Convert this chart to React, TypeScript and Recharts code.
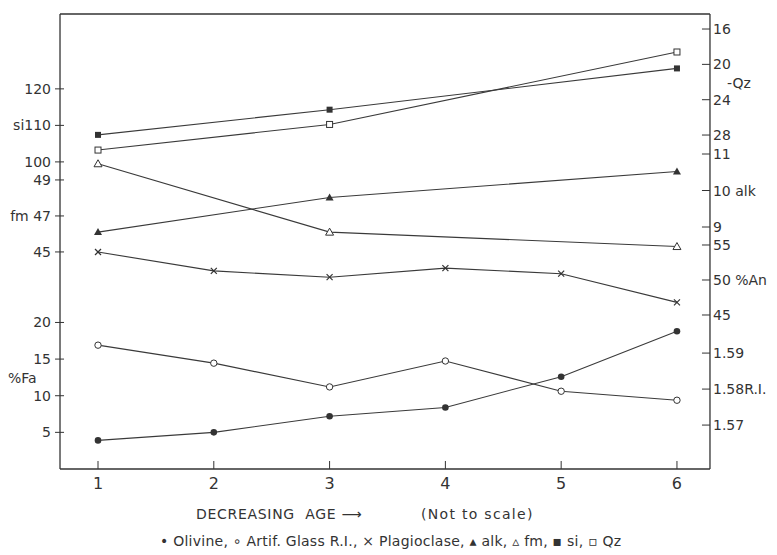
import React from "react";
import { LineChart, Line, XAxis, YAxis } from "recharts";

// age order along the x axis (not to scale)
const ages = [1, 2, 3, 4, 5, 6];

// series; null = no sample at that age
const olivineFa = [3.9, 5.0, 7.2, 8.4, 12.6, 18.8];
const glassRI = [1.5922, 1.5872, 1.5806, 1.5878, 1.5794, 1.5769];
const plagAn = [54.0, 51.3, 50.4, 51.7, 50.9, 46.8];
const alkValues = [8.86, null, 9.81, null, null, 10.52];
const fmValues = [49.9, null, 46.1, null, null, 45.3];
const siValues = [107.4, null, 114.3, null, null, 125.6];
const qzValues = [29.7, null, 26.8, null, null, 18.6];

// tick values for each stacked scale
const siTicks = [100, 110, 120];
const fmTicks = [45, 47, 49];
const faTicks = [5, 10, 15, 20];
const qzTicks = [16, 20, 24, 28];
const alkTicks = [9, 10, 11];
const anTicks = [45, 50, 55];
const riTicks = [1.57, 1.58, 1.59];

const FONT = '"DejaVu Sans", "Liberation Sans", sans-serif';
const INK = "#333";
const MARGIN_Y = 8;
const THIN = 0.01; // axes need a non-zero size to render, but should not push each other

const data = ages.map((age, i) => ({
  age,
  fa: olivineFa[i],
  ri: glassRI[i],
  an: plagAn[i],
  alk: alkValues[i],
  fm: fmValues[i],
  si: siValues[i],
  qz: qzValues[i],
}));

function fmtRI(v: number) {
  const s = v.toFixed(2);
  return s === "1.58" ? "1.58R.I." : s;
}

function SideTick(props: any) {
  const { x, y, payload, side, format } = props;
  const axisX = side === "left" ? x + MARGIN_Y : x - MARGIN_Y;
  const text = format ? format(payload.value) : String(payload.value);
  return (
    <g>
      {side === "left" ? (
        <line x1={axisX - 5} y1={y} x2={axisX + 4} y2={y} stroke={INK} strokeWidth={1} />
      ) : (
        <line x1={axisX - 8} y1={y} x2={axisX} y2={y} stroke={INK} strokeWidth={1} />
      )}
      <text
        x={side === "left" ? x - 1 : x - MARGIN_Y + 3}
        y={y}
        dy="0.36em"
        textAnchor={side === "left" ? "end" : "start"}
        fontFamily={FONT}
        fontSize={14}
        fill={INK}
      >
        {text}
      </text>
    </g>
  );
}

function AgeTick(props: any) {
  const { x, y, payload } = props;
  const axisY = y - 14;
  return (
    <g>
      <line x1={x} y1={axisY} x2={x} y2={axisY - 8} stroke={INK} strokeWidth={1} />
      <text x={x} y={y} dy="0.36em" textAnchor="middle" fontFamily={FONT} fontSize={16} fill={INK}>
        {payload.value}
      </text>
    </g>
  );
}

type Shape = "dot" | "ring" | "cross" | "tri" | "triOpen" | "sq" | "sqOpen";

function marker(shape: Shape) {
  return (props: any) => {
    const { cx, cy, index } = props;
    if (cx == null || cy == null || props.value == null) return <g key={`m-${index}`} />;
    const k = `m-${index}`;
    switch (shape) {
      case "dot":
        return <circle key={k} cx={cx} cy={cy} r={3.3} fill={INK} />;
      case "ring":
        return <circle key={k} cx={cx} cy={cy} r={3.2} fill="#fff" stroke={INK} strokeWidth={1} />;
      case "cross":
        return (
          <g key={k} stroke={INK} strokeWidth={1.2}>
            <line x1={cx - 3} y1={cy - 3} x2={cx + 3} y2={cy + 3} />
            <line x1={cx - 3} y1={cy + 3} x2={cx + 3} y2={cy - 3} />
          </g>
        );
      case "tri":
        return <polygon key={k} points={`${cx},${cy - 4} ${cx - 4},${cy + 3} ${cx + 4},${cy + 3}`} fill={INK} />;
      case "triOpen":
        return (
          <polygon
            key={k}
            points={`${cx},${cy - 4} ${cx - 4},${cy + 3} ${cx + 4},${cy + 3}`}
            fill="#fff"
            stroke={INK}
            strokeWidth={1}
          />
        );
      case "sq":
        return <rect key={k} x={cx - 3} y={cy - 3} width={6} height={6} fill={INK} />;
      case "sqOpen":
        return <rect key={k} x={cx - 3} y={cy - 3} width={6} height={6} fill="#fff" stroke={INK} strokeWidth={1} />;
    }
  };
}

const lineProps = {
  type: "linear" as const,
  stroke: "#3a3a3a",
  strokeWidth: 1.1,
  connectNulls: true,
  isAnimationActive: false,
  activeDot: false,
};

function yAxis(
  id: string,
  side: "left" | "right",
  domain: [number, number],
  ticks: number[],
  opts: { line?: boolean; reversed?: boolean; format?: (v: number) => string } = {}
) {
  return (
    <YAxis
      key={id}
      yAxisId={id}
      orientation={side}
      type="number"
      width={THIN}
      domain={domain}
      allowDataOverflow
      reversed={opts.reversed}
      ticks={ticks}
      interval={0}
      tickSize={0}
      tickMargin={MARGIN_Y}
      tickLine={false}
      axisLine={opts.line ? { stroke: INK, strokeWidth: 1.3 } : false}
      tick={(p: any) => <SideTick {...p} side={side} format={opts.format} />}
    />
  );
}

const textStyle: React.CSSProperties = {
  position: "absolute",
  whiteSpace: "pre",
  lineHeight: "16px",
  color: INK,
  fontFamily: FONT,
  fontSize: 14,
  letterSpacing: 0.7,
};

export default function App() {
  return (
    <div style={{ position: "absolute", left: 0, top: 0, width: 777, height: 555, background: "#fff" }}>
      <LineChart width={777} height={555} data={data} margin={{ top: 14, right: 67, bottom: 86, left: 60 }}>
        <XAxis
          dataKey="age"
          type="number"
          domain={[0.672, 6.285]}
          allowDataOverflow
          ticks={ages}
          interval={0}
          height={THIN}
          tickSize={0}
          tickMargin={14}
          tickLine={false}
          axisLine={{ stroke: INK, strokeWidth: 1.3 }}
          tick={AgeTick}
        />
        <XAxis
          xAxisId="top"
          orientation="top"
          type="number"
          dataKey="age"
          domain={[0.672, 6.285]}
          allowDataOverflow
          height={THIN}
          tick={false}
          tickLine={false}
          axisLine={{ stroke: INK, strokeWidth: 1.3 }}
        />
        {yAxis("si", "left", [15.9, 140.5], siTicks, { line: true, format: (v) => (v === 110 ? "si110" : String(v)) })}
        {yAxis("fm", "left", [32.94, 58.22], fmTicks, { format: (v) => (v === 47 ? "fm 47" : String(v)) })}
        {yAxis("fa", "left", [0, 62.1], faTicks)}
        {yAxis("qz", "right", [14.3, 65.8], qzTicks, { line: true, reversed: true })}
        {yAxis("alk", "right", [2.37, 14.836], alkTicks, { format: (v) => (v === 10 ? "10 alk" : String(v)) })}
        {yAxis("an", "right", [23, 88], anTicks, { format: (v) => (v === 50 ? "50 %An" : String(v)) })}
        {yAxis("ri", "right", [1.5578, 1.6842], riTicks, { format: fmtRI })}

        <Line {...lineProps} yAxisId="si" dataKey="si" dot={marker("sq")} />
        <Line {...lineProps} yAxisId="qz" dataKey="qz" dot={marker("sqOpen")} />
        <Line {...lineProps} yAxisId="fm" dataKey="fm" dot={marker("triOpen")} />
        <Line {...lineProps} yAxisId="alk" dataKey="alk" dot={marker("tri")} />
        <Line {...lineProps} yAxisId="an" dataKey="an" dot={marker("cross")} />
        <Line {...lineProps} yAxisId="ri" dataKey="ri" dot={marker("ring")} />
        <Line {...lineProps} yAxisId="fa" dataKey="fa" dot={marker("dot")} />
      </LineChart>

      <div style={{ ...textStyle, left: 8, top: 370, letterSpacing: 0 }}>%Fa</div>
      <div style={{ ...textStyle, left: 727, top: 75, letterSpacing: 0 }}>-Qz</div>
      <div style={{ ...textStyle, left: 196, top: 506 }}>DECREASING  AGE ⟶</div>
      <div style={{ ...textStyle, left: 421, top: 506, letterSpacing: 1.3 }}>(Not to scale)</div>
      <div style={{ ...textStyle, left: 160, top: 533, letterSpacing: 0.25 }}>
        • Olivine, ∘ Artif. Glass R.I., × Plagioclase, ▴ alk, ▵ fm, ▪ si, ▫ Qz
      </div>
    </div>
  );
}
